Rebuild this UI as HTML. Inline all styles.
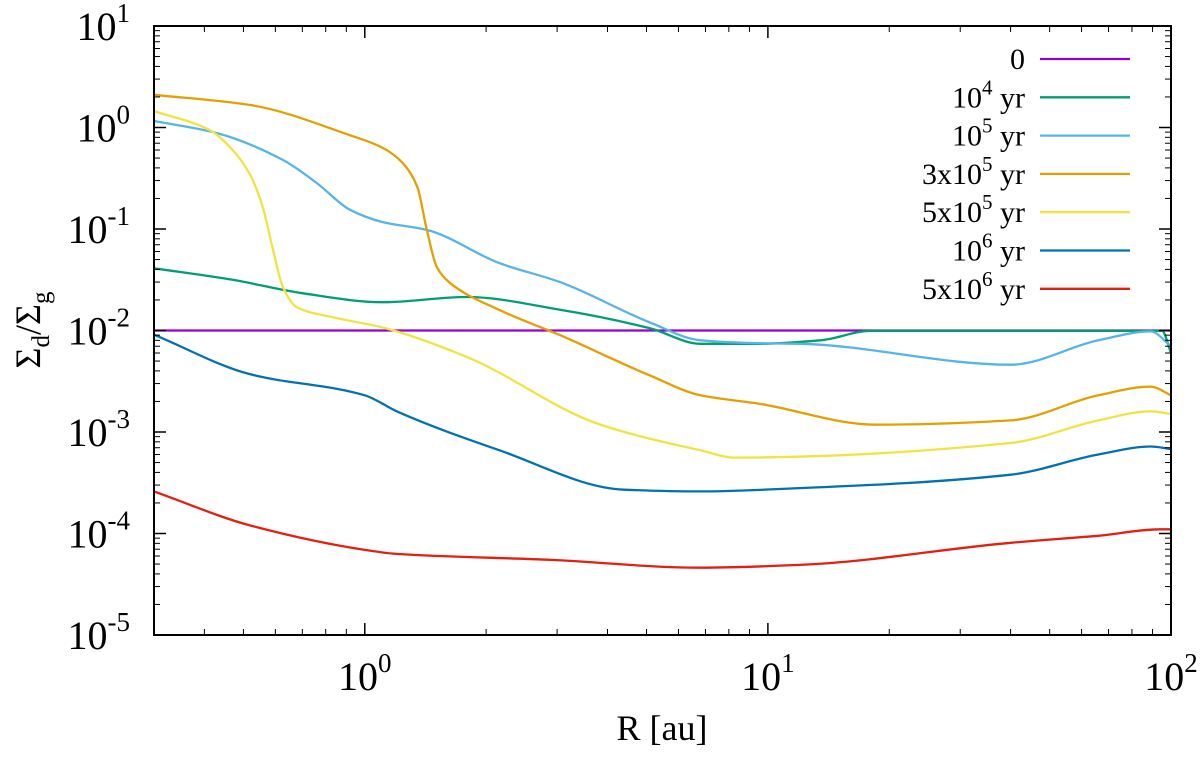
<!DOCTYPE html>
<html><head><meta charset="utf-8"><style>
body{margin:0;background:#fff;}
svg{display:block;font-family:"Liberation Serif",serif;}
</style></head><body>
<svg id="chart" width="1200" height="757" viewBox="0 0 1200 757"></svg>
<script>
const xTickDecades=[0,1,2];
const yTickDecades=[1,0,-1,-2,-3,-4,-5];
const seriesNames=["0","10^4 yr","10^5 yr","3x10^5 yr","5x10^5 yr","10^6 yr","5x10^6 yr"];
const seriesColors=["#9400d3","#009e73","#56b4e9","#e69f00","#f0e442","#0072b2","#e51e10"];
const r0=[0.3,100];
const v0=[0.01,0.01];
const r1=[0.3,0.47,0.69,1.108,1.79,3.05,5.1,6.8,9.5,13.5,18,95,100];
const v1=[0.041,0.0316,0.0235,0.019,0.0214,0.016,0.0105,0.0074,0.0074,0.008,0.0099,0.0099,0.006];
const r2=[0.3,0.43,0.626,0.76,0.918,1.108,1.425,2.16,3.05,5.1,6.8,9.5,12,40,66,89,100];
const v2=[1.16,0.88,0.48,0.284,0.155,0.117,0.098,0.046,0.03,0.012,0.008,0.0075,0.0074,0.0046,0.008,0.0098,0.007];
const r3=[0.3,0.518,0.918,1.108,1.24,1.35,1.425,1.51,1.625,2.16,3.05,5.1,6.8,9.5,18.5,40,66,89,100];
const v3=[2.1,1.67,0.84,0.63,0.45,0.26,0.098,0.042,0.0295,0.0159,0.009,0.0036,0.0023,0.0019,0.00118,0.0013,0.0023,0.0028,0.0023];
const r4=[0.3,0.413,0.47,0.518,0.558,0.59,0.626,0.678,0.833,1.108,1.79,3.8,6.8,8.3,40,66,89,100];
const v4=[1.45,0.94,0.6,0.35,0.166,0.066,0.027,0.017,0.0135,0.0107,0.0055,0.0012,0.00066,0.00056,0.00078,0.0013,0.0016,0.0015];
const r5=[0.3,0.52,1,1.2,2.16,4.4,6.8,12,40,66,89,100];
const v5=[0.0091,0.0037,0.0023,0.0016,0.00066,0.00027,0.00026,0.00028,0.00038,0.0006,0.00072,0.00068];
const r6=[0.3,0.52,1,1.2,2.9,6.8,12,40,66,94,100];
const v6=[0.00026,0.00012,0.000069,0.000063,0.000055,0.000046,0.000049,0.000081,0.000095,0.00011,0.00011];
const allR=[r0,r1,r2,r3,r4,r5,r6], allV=[v0,v1,v2,v3,v4,v5,v6];

const L=154,R=1171,T=26,B=635;
const xMinLog=Math.log10(0.3),xMaxLog=2;
function X(r){return L+(Math.log10(r)-xMinLog)/(xMaxLog-xMinLog)*(R-L);}
function Y(v){return T+(1-Math.log10(v))/6*(B-T);}
const svg=document.getElementById('chart');
const NS="http://www.w3.org/2000/svg";
function mk(t,a,p){const e=document.createElementNS(NS,t);for(const k in a)e.setAttribute(k,a[k]);(p||svg).appendChild(e);return e;}
// monotone cubic (Fritsch-Carlson) path in pixel space
function monoPath(p){
  const n=p.length;
  if(n<3)return "M"+p.map(q=>q[0].toFixed(1)+","+q[1].toFixed(1)).join(" L");
  const dx=[],s=[];
  for(let i=0;i<n-1;i++){dx[i]=p[i+1][0]-p[i][0];s[i]=(p[i+1][1]-p[i][1])/dx[i];}
  const m=[s[0]];
  for(let i=1;i<n-1;i++){
    if(s[i-1]*s[i]<=0)m[i]=0;
    else{const w1=2*dx[i]+dx[i-1],w2=dx[i]+2*dx[i-1];m[i]=(w1+w2)/(w1/s[i-1]+w2/s[i]);}
  }
  m[n-1]=s[n-2];
  let d="M"+p[0][0].toFixed(1)+","+p[0][1].toFixed(1);
  for(let i=0;i<n-1;i++){
    const h=dx[i]/3;
    d+=" C"+(p[i][0]+h).toFixed(1)+","+(p[i][1]+m[i]*h).toFixed(1)+" "+(p[i+1][0]-h).toFixed(1)+","+(p[i+1][1]-m[i+1]*h).toFixed(1)+" "+p[i+1][0].toFixed(1)+","+p[i+1][1].toFixed(1);
  }
  return d;
}
for(let s=0;s<7;s++){
  const pts=allR[s].map((r,i)=>[X(r),Y(allV[s][i])]);
  const pl=mk('path',{d:monoPath(pts),fill:'none',stroke:seriesColors[s],'stroke-width':2.3,'stroke-linejoin':'round'});
  
  
}
const fr=mk('rect',{x:L,y:T,width:R-L,height:B-T,fill:'none',stroke:'#000','stroke-width':2});


yTickDecades.forEach(d=>{
  const y=Y(Math.pow(10,d));
  mk('line',{x1:L,x2:L+12,y1:y,y2:y,stroke:'#000','stroke-width':1.5});
  mk('line',{x1:R,x2:R-12,y1:y,y2:y,stroke:'#000','stroke-width':1.5});
  if(d>-5)for(let m=2;m<10;m++){const yy=Y(m*Math.pow(10,d-1));
    mk('line',{x1:L,x2:L+6,y1:yy,y2:yy,stroke:'#000','stroke-width':1});
    mk('line',{x1:R,x2:R-6,y1:yy,y2:yy,stroke:'#000','stroke-width':1});}
  const t=mk('text',{x:L-24,y:y+14,'font-size':40,'text-anchor':'end'});
  
  
  t.innerHTML='10<tspan dy="-18" font-size="27">'+d+'</tspan>';
});
xTickDecades.forEach(d=>{
  const x=X(Math.pow(10,d));
  mk('line',{x1:x,x2:x,y1:B,y2:B-12,stroke:'#000','stroke-width':1.5});
  mk('line',{x1:x,x2:x,y1:T,y2:T+12,stroke:'#000','stroke-width':1.5});
  const t=mk('text',{x:x,y:B+55,'font-size':40,'text-anchor':'middle'});
  
  
  t.innerHTML='10<tspan dy="-18" font-size="27">'+d+'</tspan>';
});
for(let d=-1;d<2;d++)for(let m=2;m<10;m++){const r=m*Math.pow(10,d);if(r<0.3||r>100)continue;const x=X(r);
  mk('line',{x1:x,x2:x,y1:B,y2:B-6,stroke:'#000','stroke-width':1});
  mk('line',{x1:x,x2:x,y1:T,y2:T+6,stroke:'#000','stroke-width':1});}
const xt=mk('text',{x:662,y:740,'font-size':36,'text-anchor':'middle'});


xt.textContent='R [au]';
const yt=mk('text',{x:0,y:0,'font-size':36,'text-anchor':'middle',transform:'translate(40,330) rotate(-90)'});


yt.innerHTML='Σ<tspan dy="9" font-size="25">d</tspan><tspan dy="-9">/Σ</tspan><tspan dy="9" font-size="25">g</tspan>';
const lg=mk('g',{});


for(let s=0;s<7;s++){
  const y=59+s*38.3;
  const g=mk('g',{},lg);
  
  
  mk('line',{x1:1040,x2:1130,y1:y,y2:y,stroke:seriesColors[s],'stroke-width':2.3},g);
  const t=mk('text',{x:1025,y:y+10,'font-size':30,'text-anchor':'end'},g);
  const n=seriesNames[s];
  if(n.indexOf('^')>=0){const p=n.split('^');const q=p[1].split(' ');
    t.innerHTML=p[0]+'<tspan dy="-13" font-size="21">'+q[0]+'</tspan><tspan dy="13"> '+q[1]+'</tspan>';}
  else t.textContent=n;
}
</script>
</body></html>
